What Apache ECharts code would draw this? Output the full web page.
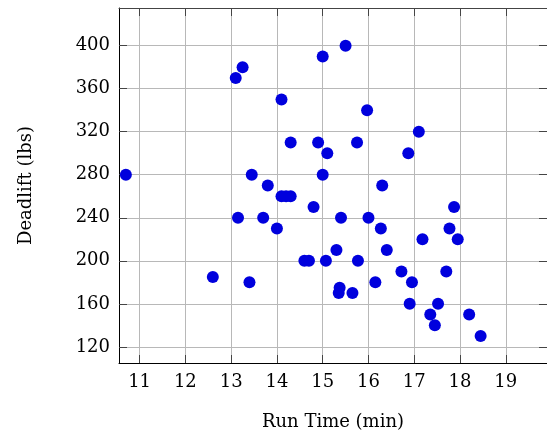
<!DOCTYPE html>
<html>
<head>
<meta charset="utf-8">
<script src="https://cdn.jsdelivr.net/npm/echarts@6/dist/echarts.min.js"></script>
<style>
  html, body { margin: 0; padding: 0; background: #fff; }
  #chart { width: 547px; height: 438px; }
</style>
</head>
<body>
<div id="chart"></div>
<script>
// run time (min) and deadlift (lbs)
const runTime = [10.7, 12.6, 13.1, 13.15, 13.25, 13.4, 13.45, 13.7, 13.8, 14.0,
  14.1, 14.1, 14.2, 14.3, 14.3, 14.6, 14.7, 14.8, 14.9, 15.0,
  15.0, 15.07, 15.1, 15.3, 15.35, 15.37, 15.4, 15.5, 15.65, 15.75,
  15.77, 15.97, 16.0, 16.15, 16.27, 16.3, 16.4, 16.72, 16.87, 16.9,
  16.95, 17.1, 17.18, 17.35, 17.45, 17.52, 17.7, 17.77, 17.87, 17.95,
  18.2, 18.45];
const deadlift = [280, 185, 370, 240, 380, 180, 280, 240, 270, 230,
  350, 260, 260, 260, 310, 200, 200, 250, 310, 390,
  280, 200, 300, 210, 170, 175, 240, 400, 170, 310,
  200, 340, 240, 180, 230, 270, 210, 190, 300, 160,
  180, 320, 220, 150, 140, 160, 190, 230, 250, 220,
  150, 130];
const xTicks = [11, 12, 13, 14, 15, 16, 17, 18, 19];
const yTicks = [120, 160, 200, 240, 280, 320, 360, 400];

let chart = echarts.init(document.getElementById("chart"));

const font = "DejaVu Serif";
const gridLine = { show: true, lineStyle: { color: "#b8b8b8", width: 1 } };

function xAx(pos, main) {
  return {
    type: "value",
    position: pos,
    min: 10.55,
    max: 19.9,
    axisLine: { show: true, onZero: false, lineStyle: { color: main ? "#000" : "#444", width: 1 } },
    axisTick: { show: true, inside: true, length: 8, customValues: xTicks, lineStyle: { color: "#444" } },
    axisLabel: { show: main, customValues: xTicks, color: "#000", fontFamily: font, fontSize: 18, margin: 10 },
    splitLine: main ? gridLine : { show: false },
    name: main ? "Run Time (min)" : "",
    nameLocation: "middle",
    nameGap: 50,
    nameTextStyle: { color: "#000", fontFamily: font, fontSize: 18 }
  };
}
function yAx(pos, main) {
  return {
    type: "value",
    position: pos,
    min: 105,
    max: 435,
    axisLine: { show: true, onZero: false, lineStyle: { color: main ? "#000" : "#444", width: 1 } },
    axisTick: { show: true, inside: true, length: 8, customValues: yTicks, lineStyle: { color: "#444" } },
    axisLabel: { show: main, customValues: yTicks, color: "#000", fontFamily: font, fontSize: 18, margin: 9 },
    splitLine: main ? gridLine : { show: false },
    name: main ? "Deadlift (lbs)" : "",
    nameLocation: "middle",
    nameGap: 84,
    nameTextStyle: { color: "#000", fontFamily: font, fontSize: 18 }
  };
}

let points = runTime.map((t, i) => [t, deadlift[i]]);

let option = {
  animation: false,
  grid: { left: 119, top: 8, width: 430, height: 355 },
  xAxis: [xAx("bottom", true), xAx("top", false)],
  yAxis: [yAx("left", true), yAx("right", false)],
  series: [{
    type: "scatter",
    data: points,
    symbol: "circle",
    symbolSize: 12,
    itemStyle: { color: "#0000dd", opacity: 1 }
  }]
};

option && chart.setOption(option);
</script>
</body>
</html>
